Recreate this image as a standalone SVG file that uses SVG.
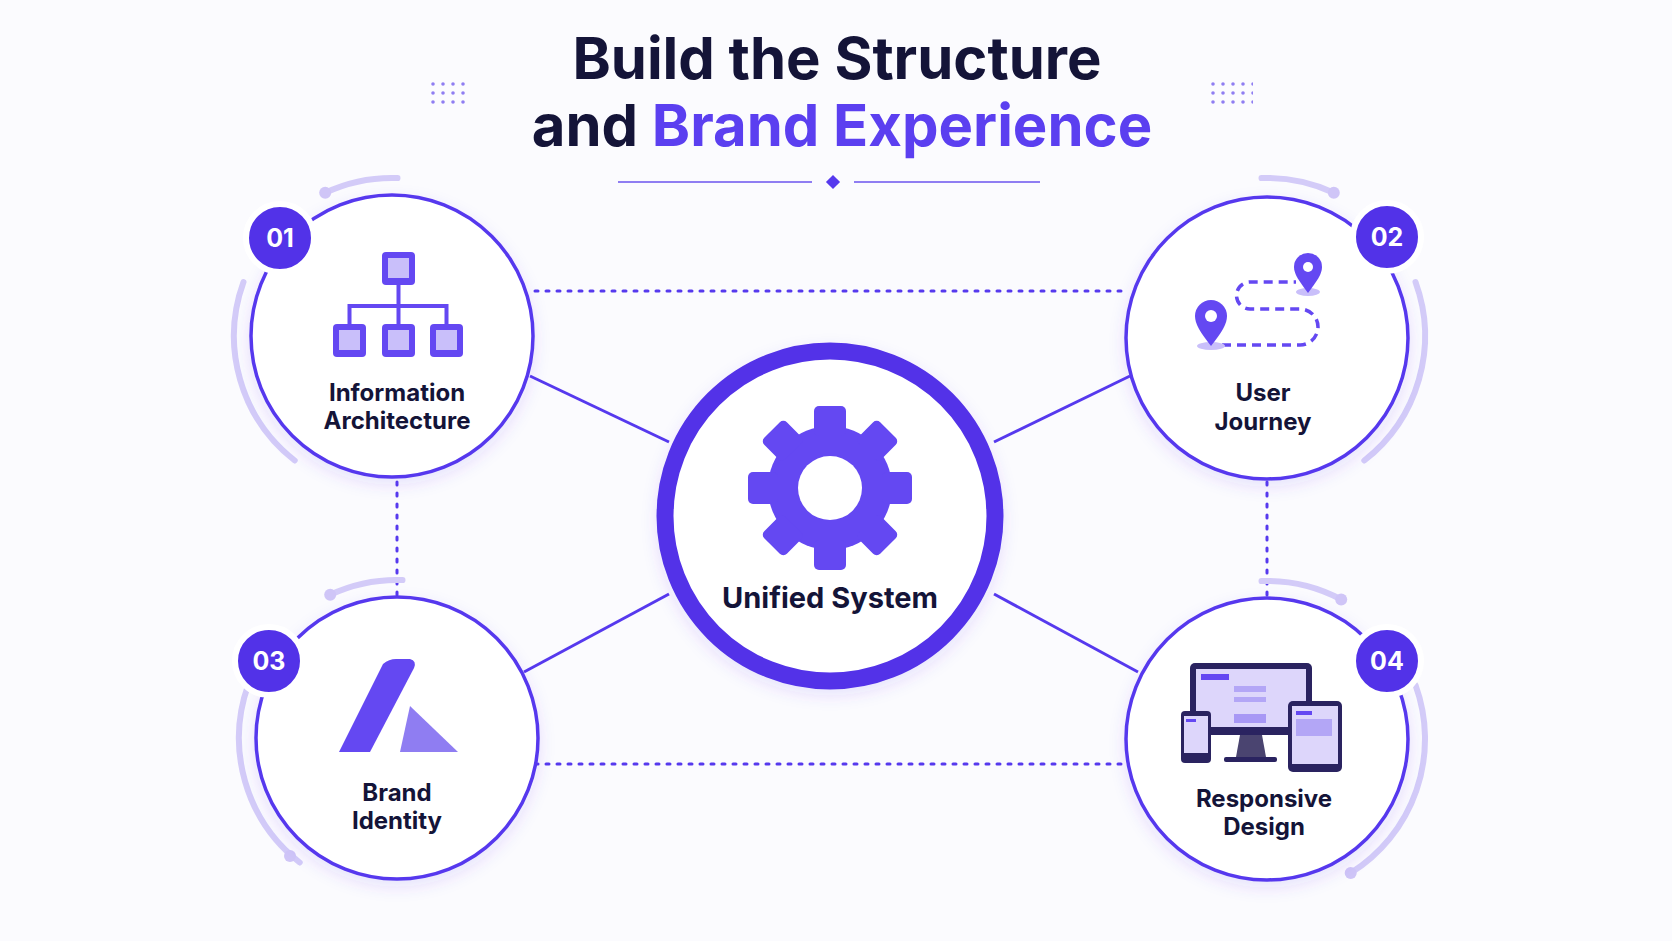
<svg xmlns="http://www.w3.org/2000/svg" width="1672" height="941" viewBox="0 0 1672 941">
<defs>
<style>
.t{font-family:Inter,"Noto Sans",sans-serif;font-weight:700;fill:#141438;text-anchor:middle}
.lbl{font-size:24px}
.ring{fill:#fff;stroke:#5639ee;stroke-width:3.5}
.arc{fill:none;stroke:#d3cbf8;stroke-width:6;stroke-linecap:round}
.dotc{fill:#cfc5f7}
.badge{fill:#5232e8;stroke:#fff;stroke-width:6}
.bt{font-family:Inter,sans-serif;font-weight:700;font-size:25px;fill:#fff;text-anchor:middle}
.sol{stroke:#5639ee;stroke-width:3;fill:none}
.dot{stroke:#5639ee;stroke-width:3;stroke-dasharray:3 8;stroke-linecap:round;fill:none}
.ic{fill:#6448f2}
.icl{fill:#c9bffa}
</style>
<filter id="sh" x="-20%" y="-20%" width="140%" height="140%"><feDropShadow dx="0" dy="6" stdDeviation="8" flood-color="#5639ee" flood-opacity="0.12"/></filter>
<pattern id="dg" width="10" height="9" patternUnits="userSpaceOnUse"><circle cx="3" cy="3" r="1.8" fill="#8f7df2"/></pattern>
</defs>
<rect width="1672" height="941" fill="#fbfbfe"/>
<g id="title">
<text class="t" x="837" y="79" font-size="58" font-weight="800">Build the Structure</text>
<text class="t" x="842" y="146" font-size="58" font-weight="800">and <tspan fill="#5b3ff0">Brand Experience</tspan></text>
<rect x="428" y="78" width="42" height="27" fill="url(#dg)"/>
<rect x="1211" y="78" width="42" height="27" fill="url(#dg)"/>
<line x1="618" y1="182" x2="812" y2="182" stroke="#8f7df2" stroke-width="2"/>
<line x1="854" y1="182" x2="1040" y2="182" stroke="#8f7df2" stroke-width="2"/>
<rect x="828" y="177" width="10" height="10" transform="rotate(45 833 182)" fill="#5639ee"/>
</g>
<g id="connectors">
<line class="dot" x1="535" y1="291" x2="1128" y2="291"/>
<line class="dot" x1="535" y1="764" x2="1124" y2="764"/>
<line class="dot" x1="397" y1="482" x2="397" y2="595"/>
<line class="dot" x1="1267" y1="482" x2="1267" y2="595"/>
<line class="sol" x1="530" y1="376" x2="669" y2="442"/>
<line class="sol" x1="994" y1="442" x2="1130" y2="376"/>
<line class="sol" x1="524" y1="672" x2="669" y2="594"/>
<line class="sol" x1="994" y1="594" x2="1138" y2="672"/>
</g>
<g id="center">
<circle cx="830" cy="516" r="165" fill="#fff" stroke="#5232e8" stroke-width="17" filter="url(#sh)"/>
<g transform="translate(830 488)">
<g class="ic">
<circle r="62"/>
<rect x="-16" y="-82" width="32" height="30" rx="5"/>
<rect x="-16" y="-82" width="32" height="30" rx="5" transform="rotate(45)"/>
<rect x="-16" y="-82" width="32" height="30" rx="5" transform="rotate(90)"/>
<rect x="-16" y="-82" width="32" height="30" rx="5" transform="rotate(135)"/>
<rect x="-16" y="-82" width="32" height="30" rx="5" transform="rotate(180)"/>
<rect x="-16" y="-82" width="32" height="30" rx="5" transform="rotate(225)"/>
<rect x="-16" y="-82" width="32" height="30" rx="5" transform="rotate(270)"/>
<rect x="-16" y="-82" width="32" height="30" rx="5" transform="rotate(315)"/>
</g>
<circle r="32" fill="#fff"/>
</g>
<text class="t" x="830" y="608" font-size="29">Unified System</text>
</g>
<g id="node1">
<path class="arc" d="M325.2 192.8 A158 158 0 0 1 397.5 178.1"/>
<circle class="dotc" cx="325.2" cy="192.8" r="6"/>
<path class="arc" d="M243.5 282 A158 158 0 0 0 294.7 460.5"/>
<circle class="ring" cx="392" cy="336" r="141" filter="url(#sh)"/>
<g class="ic">
<rect x="382" y="252" width="33" height="33" rx="4"/>
<rect x="333" y="324" width="33" height="33" rx="4"/>
<rect x="382" y="324" width="33" height="33" rx="4"/>
<rect x="430" y="324" width="33" height="33" rx="4"/>
</g>
<g class="icl"><rect x="388" y="258" width="21" height="20"/><rect x="339" y="330" width="21" height="20"/><rect x="388" y="330" width="21" height="20"/><rect x="436" y="330" width="21" height="20"/></g>
<path d="M398.5 285 V324 M349.5 324 V306 H446.5 V324" stroke="#6448f2" stroke-width="4" fill="none"/>
<text class="t lbl" x="397" y="401">Information</text>
<text class="t lbl" x="397" y="429">Architecture</text>
<circle class="badge" cx="280" cy="238" r="34"/>
<text class="bt" x="280" y="247">01</text>
</g>
<g id="node2">
<path class="arc" d="M1333.8 192.8 A158 158 0 0 0 1261.5 178.1"/>
<circle class="dotc" cx="1333.8" cy="192.8" r="6"/>
<path class="arc" d="M1415.5 282 A158 158 0 0 1 1364.3 460.5"/>
<circle class="ring" cx="1267" cy="338" r="141" filter="url(#sh)"/>
<path d="M1222 345 H1300 A18 18 0 0 0 1300 309 H1250 A13.5 13.5 0 0 1 1250 282 H1296" stroke="#6448f2" stroke-width="3.5" stroke-dasharray="9 6" fill="none"/>
<ellipse cx="1211" cy="346" rx="14" ry="4" fill="#c9bffa"/>
<path class="ic" d="M1211 346 C1200 332 1195 324 1195 316 A16 16 0 0 1 1227 316 C1227 324 1222 332 1211 346Z"/>
<circle cx="1211" cy="316" r="6" fill="#fff"/>
<ellipse cx="1308" cy="292" rx="12" ry="4" fill="#c9bffa"/>
<path class="ic" d="M1308 293 C1299 281 1294 274 1294 267 A14 14 0 0 1 1322 267 C1322 274 1317 281 1308 293Z"/>
<circle cx="1308" cy="267" r="5" fill="#fff"/>
<text class="t lbl" x="1263" y="401">User</text>
<text class="t lbl" x="1263" y="430">Journey</text>
<circle class="badge" cx="1387" cy="237" r="34"/>
<text class="bt" x="1387" y="246">02</text>
</g>
<g id="node3">
<path class="arc" d="M330.2 594.8 A158 158 0 0 1 402.5 580.1"/>
<circle class="dotc" cx="330.2" cy="594.8" r="6"/>
<path class="arc" d="M248.5 684 A158 158 0 0 0 299.7 862.5"/>
<circle class="dotc" cx="290" cy="856" r="6"/>
<circle class="ring" cx="397" cy="738" r="141" filter="url(#sh)"/>
<path class="ic" d="M339 752 L383 664 Q389 659 396 659 L410 659 Q417 661 414 668 L370 752Z"/>
<path fill="#8f7df2" d="M410 706 L458 752 L400 752 Z"/>
<text class="t lbl" x="397" y="801">Brand</text>
<text class="t lbl" x="397" y="829">Identity</text>
<circle class="badge" cx="269" cy="661" r="34"/>
<text class="bt" x="269" y="670">03</text>
</g>
<g id="node4">
<path class="arc" d="M1261.5 581.1 A158 158 0 0 1 1341.2 599.5"/>
<circle class="dotc" cx="1341.2" cy="599.5" r="6"/>
<path class="arc" d="M1415.5 685 A158 158 0 0 1 1350.7 873"/>
<circle class="dotc" cx="1350.7" cy="873" r="6"/>
<circle class="ring" cx="1267" cy="739" r="141" filter="url(#sh)"/>
<rect x="1190" y="663" width="122" height="72" rx="5" fill="#2a2360"/>
<rect x="1196" y="669" width="110" height="58" fill="#ddd6fb"/>
<rect x="1201" y="674" width="28" height="6" fill="#6448f2"/>
<rect x="1234" y="686" width="32" height="6" fill="#b3a6f6"/><rect x="1234" y="697" width="32" height="5" fill="#b3a6f6"/><rect x="1234" y="714" width="32" height="9" fill="#a898f5"/>
<path d="M1240 735 L1262 735 L1266 757 L1236 757Z" fill="#4a4470"/>
<rect x="1224" y="757" width="53" height="5" rx="2" fill="#2a2360"/>
<rect x="1181" y="711" width="30" height="52" rx="4" fill="#2a2360"/>
<rect x="1184" y="716" width="24" height="37" fill="#ddd6fb"/>
<rect x="1186" y="719" width="10" height="3" fill="#6448f2"/>
<rect x="1288" y="701" width="54" height="71" rx="5" fill="#2a2360"/>
<rect x="1292" y="706" width="46" height="58" fill="#ddd6fb"/>
<rect x="1296" y="711" width="16" height="4" fill="#6448f2"/>
<rect x="1296" y="719" width="36" height="17" fill="#b3a6f6"/>
<text class="t lbl" x="1264" y="807">Responsive</text>
<text class="t lbl" x="1264" y="835">Design</text>
<circle class="badge" cx="1387" cy="661" r="34"/>
<text class="bt" x="1387" y="670">04</text>
</g>
</svg>
